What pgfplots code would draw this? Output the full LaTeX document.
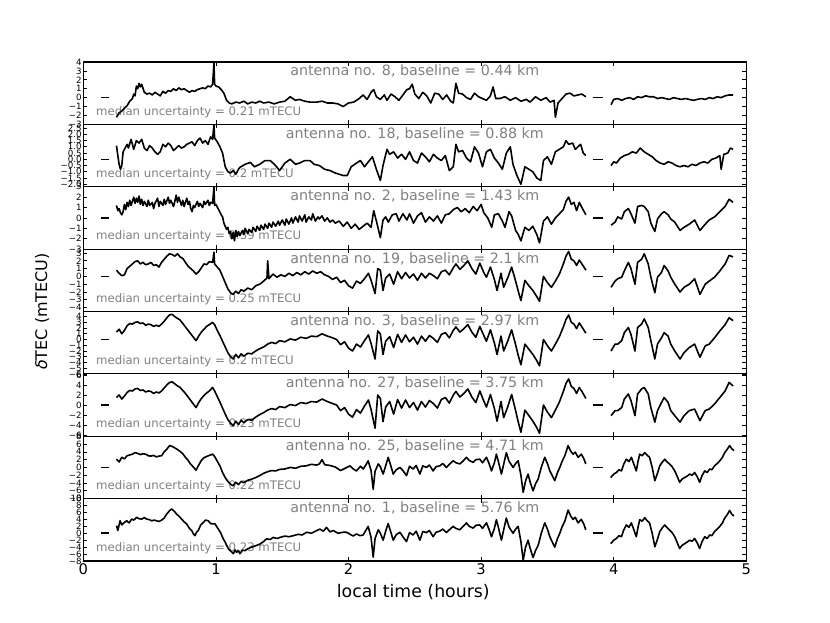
\documentclass[border=0pt]{standalone}
\usepackage{fontspec}
\setmainfont{DejaVu Sans}
\usepackage{pgfplots}
\pgfplotsset{compat=1.18}

\definecolor{lbl}{RGB}{128,128,128}

\pgfplotsset{
  panel/.style={
    scale only axis, width=497.25pt, height=46.78pt,
    anchor=north west,
    xmin=0, xmax=5, xtick={0,1,2,3,4,5}, xticklabels={},
    axis line style={line width=0.8pt},
    major tick length=3pt,
    tick style={black, line width=0.5pt},
    yticklabel style={font=\fontsize{6.5}{7}\selectfont, inner sep=1pt},
    cycle list={{black, mark=none}},
    every axis plot post/.append style={line width=1.2pt, line join=round},
  },
}
\newcommand{\zeromarks}{%
  \addplot[black, mark=none] coordinates {(0.135,0) (0.195,0)};
  \addplot[black, mark=none] coordinates {(3.84,0) (3.92,0)};}
\newcommand{\panellabels}[2]{%
  \node[lbl, font=\fontsize{10.7}{12}\selectfont] at (rel axis cs:0.5,0.85) {#1};
  \node[lbl, anchor=west, font=\fontsize{8.8}{10}\selectfont, inner sep=0pt] at (rel axis cs:0.019,0.2) {#2};}

\begin{document}
\begin{tikzpicture}
\path[use as bounding box] (0,0) rectangle (622.5pt,-467.25pt);

% antenna 8
\begin{axis}[panel, at={(62.5pt,-46.5pt)}, ymin=-3, ymax=4,
  ytick={-3,-2,-1,0,1,2,3,4}, yticklabels={−3,−2,−1,0,1,2,3,4}]
\panellabels{antenna no. 8, baseline = 0.44 km}{median uncertainty = 0.21 mTECU}
\addplot coordinates {(0.25,-2.2)(0.27,-1.7)(0.29,-1.5)(0.31,-1.2)(0.33,-0.9)(0.35,-0.4)(0.37,-0.1)(0.38,0.4)(0.39,0.2)(0.40,1.3)(0.41,1.0)(0.42,1.6)(0.43,1.2)(0.44,1.5)(0.46,0.6)(0.48,0.4)(0.50,0.5)(0.52,0.3)(0.54,0.6)(0.56,0.4)(0.58,0.2)(0.60,0.7)(0.62,0.5)(0.64,0.8)(0.66,0.7)(0.68,1.0)(0.70,0.8)(0.72,1.1)(0.74,0.9)(0.76,1.0)(0.78,0.8)(0.80,0.6)(0.82,0.8)(0.84,0.7)(0.86,0.9)(0.88,1.0)(0.90,1.1)(0.92,1.0)(0.94,1.3)(0.96,1.2)(0.975,1.5)(0.985,3.9)(0.99,1.5)(1.00,1.3)(1.02,1.2)(1.04,0.9)(1.06,0.5)(1.08,-0.3)(1.10,-0.6)(1.12,-0.7)(1.15,-0.5)(1.18,-0.6)(1.21,-0.4)(1.24,-0.7)(1.27,-0.5)(1.30,-0.6)(1.33,-0.4)(1.36,-0.6)(1.40,-0.5)(1.44,-0.7)(1.48,-0.5)(1.52,-0.4)(1.56,0.1)(1.60,-0.3)(1.63,-0.2)(1.67,-0.4)(1.71,-0.5)(1.76,-0.5)(1.80,-0.4)(1.84,-0.6)(1.88,-0.6)(1.92,-0.7)(1.96,-1.0)(2.00,-0.6)(2.04,-0.5)(2.08,-0.1)(2.11,0.3)(2.14,-0.2)(2.17,0.6)(2.19,0.9)(2.21,0.1)(2.24,-0.2)(2.27,0.3)(2.29,-0.3)(2.32,0.4)(2.35,0.1)(2.38,-0.3)(2.41,0.3)(2.44,0.9)(2.46,1.0)(2.48,1.5)(2.50,0.4)(2.53,-0.1)(2.56,0.6)(2.59,0.2)(2.62,-0.6)(2.65,0.5)(2.68,0.4)(2.71,-0.2)(2.74,0.3)(2.77,-0.4)(2.79,-0.6)(2.81,1.6)(2.83,0.5)(2.86,0.4)(2.89,0.0)(2.92,-0.2)(2.95,0.5)(2.98,0.1)(3.01,-0.1)(3.04,-0.3)(3.07,0.2)(3.09,1.2)(3.11,-0.1)(3.14,-0.1)(3.18,0.1)(3.22,-0.3)(3.26,0.0)(3.30,-0.4)(3.34,-0.2)(3.37,-0.5)(3.41,0.1)(3.45,-0.3)(3.49,0.0)(3.52,-0.5)(3.55,-0.3)(3.56,-2.2)(3.58,-0.6)(3.61,-0.1)(3.64,0.4)(3.67,0.5)(3.70,0.2)(3.73,0.3)(3.76,0.4)(3.79,0.1)};
\addplot coordinates {(3.98,-0.8)(4.00,-0.2)(4.03,-0.1)(4.06,-0.3)(4.09,-0.1)(4.12,0.0)(4.15,-0.2)(4.18,0.1)(4.21,0.0)(4.24,0.2)(4.27,0.1)(4.30,0.1)(4.33,-0.1)(4.36,0.0)(4.39,-0.1)(4.42,-0.2)(4.45,0.0)(4.48,-0.1)(4.51,-0.2)(4.54,-0.1)(4.57,-0.2)(4.60,-0.3)(4.63,-0.2)(4.66,-0.1)(4.69,-0.2)(4.72,0.0)(4.75,-0.1)(4.78,0.1)(4.81,0.0)(4.84,0.2)(4.87,0.3)(4.90,0.3)};
\zeromarks
\end{axis}

% antenna 18
\begin{axis}[panel, at={(62.5pt,-93.28pt)}, ymin=-2.2, ymax=2.8,
  ytick={-2,-1.5,-1,-0.5,0,0.5,1,1.5,2,2.5}, yticklabels={−2.0,−1.5,−1.0,−0.5,0.0,0.5,1.0,1.5,2.0,2.5}]
\panellabels{antenna no. 18, baseline = 0.88 km}{median uncertainty = 0.2 mTECU}
\addplot coordinates {(0.25,1.1)(0.26,0.3)(0.27,-0.4)(0.28,-0.8)(0.29,-0.5)(0.30,0.6)(0.32,1.0)(0.33,1.2)(0.34,0.9)(0.36,1.6)(0.38,0.8)(0.40,1.5)(0.42,1.3)(0.44,1.6)(0.46,0.9)(0.48,0.7)(0.50,1.1)(0.52,0.9)(0.54,0.6)(0.56,0.4)(0.58,0.6)(0.60,1.2)(0.62,1.0)(0.64,1.3)(0.66,1.1)(0.68,0.7)(0.70,0.9)(0.72,1.1)(0.74,0.9)(0.76,1.0)(0.78,1.2)(0.80,1.3)(0.82,1.4)(0.84,1.1)(0.86,1.5)(0.88,1.7)(0.90,1.3)(0.92,1.5)(0.94,1.2)(0.96,1.8)(0.975,1.6)(0.985,2.8)(0.99,1.7)(1.01,1.4)(1.03,1.0)(1.05,0.5)(1.07,-0.6)(1.09,-1.0)(1.11,-1.1)(1.13,-0.9)(1.15,-1.2)(1.17,-0.8)(1.18,-0.65)(1.22,-0.4)(1.26,-0.25)(1.29,-0.6)(1.33,-0.4)(1.37,-0.1)(1.41,-0.1)(1.45,-0.5)(1.48,-0.9)(1.52,-0.3)(1.56,0.0)(1.60,-0.4)(1.63,-0.3)(1.67,-0.1)(1.71,-0.1)(1.74,-0.4)(1.78,-0.5)(1.82,-0.8)(1.86,-0.9)(1.90,-1.1)(1.93,-1.2)(1.96,-1.3)(1.99,-1.3)(2.02,-0.6)(2.06,-0.3)(2.09,-0.1)(2.12,-0.6)(2.15,-0.2)(2.18,0.2)(2.21,-0.8)(2.24,-1.7)(2.26,-0.5)(2.29,0.8)(2.31,0.4)(2.34,0.6)(2.37,0.1)(2.40,0.4)(2.43,0.0)(2.46,0.6)(2.49,-0.1)(2.52,-0.3)(2.55,0.5)(2.58,0.2)(2.61,-0.2)(2.64,0.4)(2.67,0.1)(2.70,-0.1)(2.73,0.3)(2.76,-0.9)(2.79,-0.6)(2.81,1.2)(2.83,0.6)(2.86,0.7)(2.89,0.1)(2.92,-0.2)(2.95,1.0)(2.98,0.5)(3.01,-0.6)(3.04,0.6)(3.07,0.8)(3.10,0.1)(3.13,-0.3)(3.16,-0.8)(3.19,0.5)(3.22,1.0)(3.24,-0.4)(3.27,-1.3)(3.30,-2.0)(3.33,-0.6)(3.36,-0.8)(3.39,-1.0)(3.42,-1.5)(3.45,-1.7)(3.47,-0.1)(3.50,0.2)(3.53,-0.4)(3.56,0.6)(3.59,0.8)(3.62,1.0)(3.64,1.5)(3.66,1.2)(3.69,1.3)(3.71,0.8)(3.73,1.0)(3.75,1.2)(3.77,0.5)(3.79,0.3)};
\addplot coordinates {(3.98,-0.5)(4.00,-0.2)(4.02,-0.3)(4.05,0.1)(4.08,0.3)(4.11,0.4)(4.14,0.6)(4.17,0.5)(4.20,0.9)(4.23,0.6)(4.26,0.4)(4.29,0.2)(4.32,-0.1)(4.35,-0.3)(4.38,-0.4)(4.41,-0.2)(4.44,-0.3)(4.47,-0.5)(4.50,-0.6)(4.53,-0.5)(4.56,-0.6)(4.59,-0.4)(4.62,-0.5)(4.65,-0.3)(4.68,-0.2)(4.71,-0.3)(4.74,0.0)(4.77,0.1)(4.80,0.3)(4.81,-0.8)(4.83,0.4)(4.86,0.5)(4.88,0.9)(4.90,0.8)};
\zeromarks
\end{axis}

% antenna 2
\begin{axis}[panel, at={(62.5pt,-140.06pt)}, ymin=-3, ymax=3,
  ytick={-3,-2,-1,0,1,2,3}, yticklabels={−3,−2,−1,0,1,2,3}]
\panellabels{antenna no. 2, baseline = 1.43 km}{median uncertainty = 0.39 mTECU}
\addplot coordinates {(0.25,1.2)(0.26,0.7)(0.27,0.9)(0.28,0.5)(0.29,0.3)(0.30,0.6)(0.31,1.3)(0.32,0.8)(0.33,1.5)(0.34,1.1)(0.35,1.7)(0.36,1.2)(0.37,1.6)(0.38,2.0)(0.39,1.4)(0.40,1.9)(0.41,1.5)(0.42,2.1)(0.43,1.3)(0.44,1.8)(0.45,1.2)(0.46,1.6)(0.48,1.1)(0.49,1.7)(0.50,1.2)(0.52,1.5)(0.53,0.9)(0.54,1.4)(0.56,1.9)(0.57,1.1)(0.58,1.6)(0.60,1.2)(0.61,1.8)(0.62,1.3)(0.64,2.0)(0.65,1.4)(0.66,1.7)(0.68,1.1)(0.69,1.6)(0.70,2.2)(0.71,1.5)(0.72,2.0)(0.74,1.2)(0.75,1.7)(0.76,1.1)(0.78,1.9)(0.79,1.3)(0.80,1.6)(0.81,0.9)(0.82,0.6)(0.83,1.2)(0.84,1.0)(0.86,1.6)(0.87,1.1)(0.88,1.4)(0.90,1.0)(0.91,1.6)(0.92,1.3)(0.94,1.7)(0.95,1.2)(0.96,1.5)(0.975,1.4)(0.985,3.0)(0.99,1.2)(1.00,1.3)(1.02,0.8)(1.04,0.3)(1.05,0.1)(1.06,-0.5)(1.07,-0.8)(1.08,-1.1)(1.09,-0.9)(1.10,-1.5)(1.11,-1.3)(1.12,-2.0)(1.13,-1.4)(1.14,-2.2)(1.15,-1.2)(1.16,-1.8)(1.17,-1.3)(1.18,-1.7)(1.20,-1.2)(1.21,-1.6)(1.22,-1.0)(1.24,-1.5)(1.25,-1.1)(1.27,-1.4)(1.28,-0.9)(1.30,-1.3)(1.31,-0.8)(1.33,-1.2)(1.34,-0.7)(1.36,-1.1)(1.37,-0.6)(1.39,-1.0)(1.40,-0.5)(1.42,-0.9)(1.43,-0.4)(1.45,-0.8)(1.47,-0.3)(1.48,-0.7)(1.50,-0.2)(1.52,-0.7)(1.53,-0.1)(1.55,-0.6)(1.57,0.0)(1.58,-0.5)(1.60,0.1)(1.62,-0.4)(1.63,0.2)(1.65,-0.3)(1.67,0.3)(1.68,-0.4)(1.70,0.1)(1.72,-0.2)(1.73,0.4)(1.75,-0.3)(1.77,0.1)(1.78,-0.1)(1.80,0.2)(1.82,-0.3)(1.84,0.0)(1.86,-0.4)(1.88,-0.2)(1.90,-0.5)(1.93,-0.3)(1.96,-0.8)(1.99,-0.4)(2.02,-1.0)(2.05,-0.6)(2.08,-1.1)(2.11,-0.8)(2.14,-0.5)(2.17,-0.9)(2.19,0.7)(2.21,-0.3)(2.24,-1.9)(2.26,-0.2)(2.28,0.1)(2.30,-0.4)(2.33,0.3)(2.36,0.4)(2.38,-0.3)(2.41,0.4)(2.44,-0.2)(2.46,0.4)(2.49,-0.5)(2.52,0.2)(2.55,0.5)(2.58,-0.4)(2.61,0.1)(2.64,-0.3)(2.67,0.2)(2.70,-0.5)(2.73,0.3)(2.76,0.4)(2.79,0.8)(2.82,1.0)(2.85,0.6)(2.88,0.9)(2.91,0.5)(2.94,1.1)(2.97,0.7)(3.00,1.3)(3.02,0.5)(3.05,0.0)(3.08,-0.9)(3.10,0.3)(3.13,0.4)(3.16,-0.3)(3.18,-0.9)(3.21,0.6)(3.23,0.2)(3.26,-1.2)(3.28,-1.6)(3.30,-2.2)(3.33,-0.9)(3.36,-1.2)(3.39,-0.8)(3.42,-1.6)(3.44,-2.4)(3.47,-0.3)(3.50,0.1)(3.53,-0.6)(3.56,0.0)(3.59,0.4)(3.62,0.8)(3.64,1.6)(3.66,2.0)(3.68,1.3)(3.70,1.5)(3.72,0.7)(3.74,1.5)(3.76,1.0)(3.79,0.3)};
\addplot coordinates {(3.98,-0.7)(4.01,-0.4)(4.03,0.1)(4.06,-0.1)(4.08,0.6)(4.11,0.9)(4.13,0.4)(4.16,-0.5)(4.18,1.1)(4.21,1.2)(4.23,1.1)(4.26,0.6)(4.28,-0.5)(4.31,-1.3)(4.33,-0.1)(4.36,0.4)(4.38,0.6)(4.41,0.3)(4.43,-0.1)(4.46,-0.4)(4.50,-1.2)(4.53,-0.9)(4.57,-0.6)(4.61,-0.2)(4.65,-1.2)(4.69,-0.6)(4.72,-0.2)(4.76,0.1)(4.80,0.6)(4.84,1.1)(4.87,1.8)(4.90,1.5)};
\zeromarks
\end{axis}

% antenna 19
\begin{axis}[panel, at={(62.5pt,-186.84pt)}, ymin=-4.5, ymax=3.5,
  ytick={-4,-3,-2,-1,0,1,2,3}, yticklabels={−4,−3,−2,−1,0,1,2,3}]
\panellabels{antenna no. 19, baseline = 2.1 km}{median uncertainty = 0.25 mTECU}
\addplot coordinates {(0.25,0.8)(0.27,0.4)(0.29,0.1)(0.31,0.2)(0.33,1.0)(0.35,1.3)(0.37,1.6)(0.39,1.9)(0.41,2.0)(0.43,1.6)(0.45,1.8)(0.47,1.5)(0.49,1.6)(0.51,1.8)(0.53,1.4)(0.55,1.5)(0.57,1.2)(0.59,1.8)(0.61,2.2)(0.63,2.6)(0.65,2.9)(0.67,2.8)(0.69,2.6)(0.71,2.9)(0.73,2.5)(0.75,2.3)(0.77,1.8)(0.79,1.3)(0.81,1.0)(0.83,0.7)(0.85,0.3)(0.87,0.6)(0.89,1.1)(0.91,1.6)(0.93,1.5)(0.95,1.9)(0.975,1.8)(0.985,3.1)(0.99,1.6)(1.01,1.2)(1.03,0.8)(1.05,0.0)(1.07,-0.8)(1.09,-1.6)(1.11,-2.1)(1.13,-2.3)(1.15,-1.9)(1.17,-2.2)(1.19,-1.7)(1.21,-1.9)(1.24,-1.5)(1.27,-1.7)(1.30,-1.2)(1.33,-1.0)(1.36,-0.6)(1.385,-0.2)(1.39,2.0)(1.40,-0.3)(1.43,0.3)(1.46,-0.1)(1.49,0.2)(1.52,0.0)(1.55,0.4)(1.58,0.1)(1.61,0.5)(1.64,0.2)(1.67,0.6)(1.70,0.3)(1.73,0.7)(1.76,0.4)(1.79,0.6)(1.82,0.2)(1.85,0.0)(1.88,-0.4)(1.91,-0.1)(1.94,-0.8)(1.97,-0.5)(2.00,-1.2)(2.03,-1.5)(2.06,-0.6)(2.09,-0.9)(2.12,-0.3)(2.15,0.4)(2.17,-0.5)(2.20,-2.2)(2.22,1.0)(2.24,0.8)(2.26,-1.8)(2.28,-0.2)(2.31,0.3)(2.34,-1.0)(2.37,0.6)(2.40,-0.3)(2.43,0.5)(2.46,-0.2)(2.49,0.3)(2.52,-0.5)(2.55,0.4)(2.58,-0.2)(2.61,0.4)(2.64,0.1)(2.67,-0.3)(2.70,0.6)(2.73,0.8)(2.76,0.2)(2.79,1.1)(2.81,1.6)(2.84,0.9)(2.87,1.4)(2.90,2.0)(2.93,1.0)(2.96,0.3)(2.99,1.7)(3.02,0.5)(3.04,-0.1)(3.07,1.2)(3.10,-0.4)(3.12,-1.8)(3.15,0.4)(3.17,-1.4)(3.20,-0.2)(3.23,1.2)(3.26,-0.6)(3.28,-1.9)(3.30,-3.1)(3.33,-0.5)(3.36,-1.2)(3.39,-1.8)(3.42,-2.6)(3.44,-3.2)(3.47,0.0)(3.50,-0.8)(3.53,-1.4)(3.56,-0.6)(3.59,0.3)(3.62,1.6)(3.64,2.6)(3.66,3.2)(3.68,2.2)(3.70,2.0)(3.72,1.4)(3.74,2.1)(3.76,1.6)(3.79,0.8)};
\addplot coordinates {(3.98,-1.4)(4.01,-0.6)(4.03,-0.3)(4.06,-0.1)(4.08,0.7)(4.11,1.8)(4.13,1.0)(4.16,-1.0)(4.18,1.8)(4.21,2.2)(4.23,2.9)(4.26,1.6)(4.28,-0.1)(4.31,-2.1)(4.33,-0.1)(4.36,0.5)(4.38,1.4)(4.41,0.7)(4.43,-0.1)(4.46,-1.0)(4.50,-2.0)(4.53,-1.4)(4.57,-1.0)(4.61,-0.3)(4.65,-2.3)(4.69,-1.0)(4.72,-0.6)(4.76,-0.1)(4.80,0.7)(4.84,1.6)(4.87,2.7)(4.90,2.5)};
\zeromarks
\end{axis}

% antenna 3
\begin{axis}[panel, at={(62.5pt,-233.62pt)}, ymin=-6, ymax=4.9,
  ytick={-6,-5,-4,-3,-2,-1,0,1,2,3,4}, yticklabels={−6,−5,−4,−3,−2,−1,0,1,2,3,4}]
\panellabels{antenna no. 3, baseline = 2.97 km}{median uncertainty = 0.2 mTECU}
\addplot coordinates {(0.25,1.3)(0.27,1.8)(0.29,1.0)(0.31,1.6)(0.33,2.4)(0.35,2.8)(0.37,2.7)(0.39,3.0)(0.41,3.1)(0.43,2.8)(0.45,2.9)(0.47,2.5)(0.49,2.7)(0.51,2.6)(0.53,2.3)(0.55,2.5)(0.57,2.3)(0.59,2.7)(0.61,3.2)(0.63,3.8)(0.65,4.3)(0.67,4.4)(0.69,4.0)(0.71,3.7)(0.73,3.4)(0.75,2.8)(0.77,2.2)(0.79,1.6)(0.81,1.0)(0.83,0.4)(0.85,-0.2)(0.87,0.6)(0.89,1.3)(0.91,1.8)(0.93,2.3)(0.95,2.6)(0.975,3.0)(0.99,2.6)(1.01,1.6)(1.03,0.7)(1.05,-0.3)(1.07,-1.3)(1.09,-2.3)(1.11,-3.0)(1.13,-3.4)(1.15,-2.6)(1.17,-3.2)(1.19,-2.5)(1.21,-2.9)(1.24,-2.4)(1.27,-2.5)(1.30,-2.0)(1.33,-1.6)(1.36,-1.3)(1.39,-0.8)(1.42,-0.5)(1.45,-0.7)(1.48,-0.2)(1.52,-0.4)(1.56,0.1)(1.60,-0.1)(1.64,0.4)(1.68,0.2)(1.72,0.6)(1.76,0.5)(1.80,1.0)(1.84,0.6)(1.88,0.3)(1.91,0.0)(1.94,-0.9)(1.97,-0.4)(2.00,-1.5)(2.03,-2.0)(2.06,-0.8)(2.09,-1.3)(2.12,-0.2)(2.15,0.8)(2.17,-0.7)(2.20,-3.4)(2.22,1.5)(2.24,1.0)(2.26,-2.6)(2.28,-0.3)(2.31,0.5)(2.34,-1.4)(2.37,0.9)(2.40,-0.5)(2.43,0.8)(2.46,-0.4)(2.49,0.4)(2.52,-0.8)(2.55,0.6)(2.58,-0.3)(2.61,0.7)(2.64,0.2)(2.67,-0.5)(2.70,0.9)(2.73,1.2)(2.76,0.3)(2.79,1.6)(2.81,2.2)(2.84,1.3)(2.87,1.9)(2.90,2.6)(2.93,1.3)(2.96,0.4)(2.99,2.3)(3.02,0.7)(3.04,-0.3)(3.07,1.7)(3.10,-0.6)(3.12,-2.6)(3.15,0.6)(3.17,-2.0)(3.20,-0.3)(3.23,1.7)(3.26,-0.9)(3.28,-2.8)(3.30,-4.4)(3.33,-0.8)(3.36,-1.7)(3.39,-2.6)(3.42,-3.7)(3.44,-4.6)(3.47,0.0)(3.50,-1.1)(3.53,-2.0)(3.56,-0.8)(3.59,0.5)(3.62,2.2)(3.64,3.5)(3.66,4.3)(3.68,3.0)(3.70,2.7)(3.72,1.9)(3.74,2.9)(3.76,2.2)(3.79,1.1)};
\addplot coordinates {(3.98,-2.0)(4.01,-0.8)(4.03,-0.8)(4.06,-0.2)(4.08,1.2)(4.11,2.1)(4.13,0.9)(4.16,-2.0)(4.18,2.1)(4.21,2.7)(4.23,3.6)(4.26,2.1)(4.28,-0.2)(4.31,-3.4)(4.33,-0.8)(4.36,0.3)(4.38,1.2)(4.41,0.6)(4.43,-0.8)(4.46,-2.0)(4.50,-3.4)(4.53,-2.3)(4.57,-1.4)(4.61,-0.8)(4.65,-3.1)(4.69,-1.1)(4.72,-0.8)(4.76,0.3)(4.80,1.5)(4.84,2.6)(4.87,3.8)(4.90,3.3)};
\zeromarks
\end{axis}

% antenna 27
\begin{axis}[panel, at={(62.5pt,-280.4pt)}, ymin=-6.2, ymax=6.2,
  ytick={-6,-4,-2,0,2,4,6}, yticklabels={−6,−4,−2,0,2,4,6}]
\panellabels{antenna no. 27, baseline = 3.75 km}{median uncertainty = 0.23 mTECU}
\addplot coordinates {(0.25,1.5)(0.27,2.0)(0.29,1.2)(0.31,1.8)(0.33,2.5)(0.35,2.9)(0.37,2.8)(0.39,3.2)(0.41,3.3)(0.43,2.9)(0.45,3.0)(0.47,2.6)(0.49,2.8)(0.51,2.7)(0.53,2.3)(0.55,2.6)(0.57,2.4)(0.59,2.8)(0.61,3.4)(0.63,4.0)(0.65,4.5)(0.67,4.6)(0.69,4.2)(0.71,3.8)(0.73,3.5)(0.75,2.9)(0.77,2.3)(0.79,1.6)(0.81,0.9)(0.83,0.2)(0.85,-0.5)(0.87,0.5)(0.89,1.3)(0.91,1.9)(0.93,2.4)(0.95,2.8)(0.975,3.5)(0.99,2.8)(1.01,1.7)(1.03,0.6)(1.05,-0.6)(1.07,-1.8)(1.09,-2.9)(1.11,-3.6)(1.13,-4.1)(1.15,-3.2)(1.17,-3.9)(1.19,-3.0)(1.21,-3.5)(1.24,-2.9)(1.27,-3.0)(1.30,-2.4)(1.33,-1.9)(1.36,-1.5)(1.39,-1.0)(1.42,-0.7)(1.45,-0.9)(1.48,-0.3)(1.52,-0.5)(1.56,0.1)(1.60,-0.1)(1.64,0.5)(1.68,0.3)(1.72,0.7)(1.76,0.6)(1.80,1.2)(1.84,0.7)(1.88,0.3)(1.91,0.0)(1.94,-1.1)(1.97,-0.5)(2.00,-1.8)(2.03,-2.4)(2.06,-0.9)(2.09,-1.6)(2.12,-0.2)(2.15,1.0)(2.17,-0.9)(2.20,-4.6)(2.22,2.0)(2.24,1.3)(2.26,-3.3)(2.28,-0.4)(2.31,0.7)(2.34,-1.8)(2.37,1.1)(2.40,-0.6)(2.43,1.0)(2.46,-0.5)(2.49,0.5)(2.52,-1.0)(2.55,0.7)(2.58,-0.4)(2.61,0.9)(2.64,0.3)(2.67,-0.6)(2.70,1.1)(2.73,1.5)(2.76,0.4)(2.79,2.0)(2.81,2.7)(2.84,1.6)(2.87,2.3)(2.90,3.2)(2.93,1.6)(2.96,0.5)(2.99,2.8)(3.02,0.8)(3.04,-0.4)(3.07,2.1)(3.10,-0.7)(3.12,-3.2)(3.15,0.7)(3.17,-2.5)(3.20,-0.4)(3.23,2.1)(3.26,-1.1)(3.28,-3.4)(3.30,-5.4)(3.33,-1.0)(3.36,-2.1)(3.39,-3.2)(3.42,-4.5)(3.44,-5.6)(3.47,0.0)(3.50,-1.4)(3.53,-2.5)(3.56,-1.0)(3.59,0.6)(3.62,2.7)(3.64,4.3)(3.66,5.2)(3.68,3.7)(3.70,3.3)(3.72,2.3)(3.74,3.5)(3.76,2.7)(3.79,1.3)};
\addplot coordinates {(3.98,-2.1)(4.01,-1.1)(4.03,-1.1)(4.06,-0.5)(4.08,1.2)(4.11,2.2)(4.13,0.9)(4.16,-2.1)(4.18,2.2)(4.21,3.2)(4.23,3.5)(4.26,2.2)(4.28,-0.5)(4.31,-3.4)(4.33,-1.1)(4.36,0.5)(4.38,1.5)(4.41,0.5)(4.43,-1.1)(4.46,-2.1)(4.50,-3.4)(4.53,-2.1)(4.57,-1.1)(4.61,-0.8)(4.65,-3.1)(4.69,-1.1)(4.72,-0.8)(4.76,0.2)(4.80,1.5)(4.84,2.8)(4.87,4.5)(4.90,3.8)};
\zeromarks
\end{axis}

% antenna 25
\begin{axis}[panel, at={(62.5pt,-327.18pt)}, ymin=-8, ymax=8,
  ytick={-8,-6,-4,-2,0,2,4,6,8}, yticklabels={−8,−6,−4,−2,0,2,4,6,8}]
\panellabels{antenna no. 25, baseline = 4.71 km}{median uncertainty = 0.22 mTECU}
\addplot coordinates {(0.25,2.1)(0.27,1.4)(0.29,2.6)(0.31,2.2)(0.33,3.0)(0.35,3.2)(0.37,3.4)(0.39,3.8)(0.41,3.6)(0.43,3.3)(0.45,3.5)(0.47,3.4)(0.49,3.0)(0.51,2.9)(0.53,3.1)(0.55,2.7)(0.57,2.9)(0.59,3.0)(0.61,4.0)(0.63,4.7)(0.65,5.6)(0.67,5.4)(0.69,5.0)(0.71,4.6)(0.73,4.1)(0.75,3.5)(0.77,2.6)(0.79,1.8)(0.81,0.8)(0.83,0.1)(0.85,-0.7)(0.87,0.6)(0.89,1.8)(0.91,2.5)(0.93,2.8)(0.95,3.1)(0.975,3.4)(0.99,2.8)(1.01,1.6)(1.03,0.4)(1.05,-1.3)(1.07,-2.6)(1.09,-3.6)(1.11,-4.3)(1.13,-4.7)(1.15,-3.8)(1.17,-4.4)(1.19,-3.6)(1.21,-3.9)(1.24,-3.3)(1.27,-3.0)(1.30,-2.6)(1.33,-2.1)(1.36,-1.5)(1.39,-1.1)(1.42,-0.8)(1.45,-0.9)(1.48,-0.5)(1.52,-0.4)(1.56,0.0)(1.60,-0.2)(1.64,0.3)(1.68,0.4)(1.72,0.8)(1.76,0.6)(1.78,0.9)(1.80,2.0)(1.82,0.7)(1.86,0.5)(1.90,0.1)(1.94,-0.8)(1.97,-0.3)(2.01,0.4)(2.04,-0.5)(2.06,-0.9)(2.09,0.3)(2.11,-0.4)(2.13,0.6)(2.148,1.7)(2.17,-0.8)(2.186,-5.6)(2.20,-1.0)(2.224,0.9)(2.24,0.2)(2.261,-1.7)(2.28,0.4)(2.299,2.6)(2.32,0.3)(2.337,-1.7)(2.36,-0.6)(2.387,0.0)(2.41,-0.8)(2.437,-2.1)(2.46,0.3)(2.487,-0.4)(2.51,0.5)(2.538,-1.7)(2.56,0.4)(2.588,0.0)(2.61,0.6)(2.638,-0.9)(2.66,0.2)(2.688,0.4)(2.71,1.0)(2.739,0.0)(2.76,0.8)(2.789,1.7)(2.81,1.2)(2.839,0.9)(2.86,1.5)(2.889,2.6)(2.91,1.8)(2.94,1.3)(2.96,2.0)(2.99,2.1)(3.01,1.2)(3.04,2.6)(3.06,1.0)(3.078,-0.9)(3.10,1.2)(3.115,3.4)(3.13,1.5)(3.153,-1.7)(3.17,0.8)(3.19,3.8)(3.21,1.6)(3.241,0.0)(3.26,1.0)(3.279,1.7)(3.30,-2.0)(3.317,-6.4)(3.335,-3.5)(3.354,-1.7)(3.37,-3.8)(3.392,-6.0)(3.41,-4.2)(3.43,-3.0)(3.455,0.2)(3.48,2.6)(3.50,1.0)(3.518,-0.9)(3.535,-2.0)(3.555,-3.4)(3.575,-1.4)(3.593,0.0)(3.61,1.5)(3.631,3.0)(3.656,5.6)(3.675,4.2)(3.693,3.4)(3.71,3.9)(3.731,2.6)(3.756,3.4)(3.775,2.2)(3.789,0.9)};
\addplot coordinates {(3.977,-2.6)(4.00,-1.7)(4.02,-1.3)(4.04,-0.6)(4.058,-0.9)(4.075,0.8)(4.095,2.1)(4.115,1.5)(4.133,2.6)(4.15,1.0)(4.17,-0.9)(4.183,1.5)(4.196,3.4)(4.215,3.0)(4.234,3.8)(4.25,3.2)(4.27,2.6)(4.29,0.0)(4.31,-3.4)(4.33,-1.5)(4.347,0.4)(4.365,1.3)(4.385,2.1)(4.40,1.5)(4.42,0.9)(4.44,0.2)(4.46,-0.9)(4.48,-2.4)(4.497,-3.8)(4.515,-3.0)(4.535,-2.6)(4.555,-2.2)(4.573,-1.7)(4.59,-2.0)(4.61,-1.3)(4.63,-2.4)(4.648,-3.8)(4.665,-2.2)(4.686,-0.9)(4.705,-1.3)(4.724,-0.4)(4.74,-0.6)(4.76,0.4)(4.78,1.0)(4.80,1.7)(4.82,2.6)(4.837,3.8)(4.855,4.6)(4.874,5.6)(4.89,4.8)(4.907,4.3)};
\zeromarks
\end{axis}

% antenna 1
\begin{axis}[panel, at={(62.5pt,-373.96pt)}, ymin=-8, ymax=10,
  ytick={-8,-6,-4,-2,0,2,4,6,8,10}, yticklabels={−8,−6,−4,−2,0,2,4,6,8,10},
  xticklabels={0,1,2,3,4,5},
  xticklabel style={font=\fontsize{11}{13}\selectfont, inner sep=2pt}]
\panellabels{antenna no. 1, baseline = 5.76 km}{median uncertainty = 0.23 mTECU}
\addplot coordinates {(0.25,2.2)(0.26,0.8)(0.277,3.6)(0.29,2.4)(0.302,2.9)(0.327,3.6)(0.345,3.0)(0.365,4.1)(0.38,3.8)(0.402,4.6)(0.42,4.2)(0.44,4.1)(0.46,4.5)(0.478,4.1)(0.50,3.9)(0.515,3.6)(0.535,3.8)(0.553,3.6)(0.57,3.4)(0.591,3.8)(0.61,4.4)(0.628,5.5)(0.65,6.5)(0.666,7.0)(0.685,6.4)(0.704,5.5)(0.72,5.0)(0.741,4.1)(0.76,3.3)(0.779,2.7)(0.80,1.4)(0.817,0.8)(0.83,-0.2)(0.842,-0.7)(0.855,0.4)(0.867,0.8)(0.885,2.4)(0.905,3.1)(0.92,3.8)(0.942,3.6)(0.96,2.8)(0.975,2.7)(0.993,2.7)(1.018,1.2)(1.035,0.2)(1.055,-1.6)(1.07,-2.6)(1.081,-3.5)(1.095,-4.5)(1.106,-5.0)(1.12,-5.4)(1.131,-5.9)(1.145,-4.8)(1.156,-5.5)(1.17,-5.0)(1.181,-5.9)(1.20,-4.9)(1.219,-5.0)(1.24,-4.5)(1.269,-4.0)(1.30,-3.6)(1.332,-3.1)(1.36,-2.4)(1.382,-1.6)(1.41,-1.8)(1.432,-1.2)(1.46,-1.5)(1.483,-1.2)(1.52,-0.8)(1.55,-1.0)(1.583,-0.7)(1.62,-0.3)(1.65,-0.5)(1.684,0.3)(1.72,0.0)(1.75,0.6)(1.784,1.2)(1.81,0.6)(1.834,1.7)(1.86,0.4)(1.885,0.8)(1.92,0.0)(1.96,0.3)(1.985,0.3)(2.035,-0.8)(2.06,-0.2)(2.086,-0.7)(2.11,-0.5)(2.13,0.8)(2.148,2.0)(2.17,-1.2)(2.186,-6.9)(2.20,-1.5)(2.224,1.0)(2.24,0.0)(2.261,-2.0)(2.28,0.6)(2.299,2.8)(2.32,0.2)(2.337,-2.0)(2.36,-0.4)(2.387,0.3)(2.41,-1.0)(2.437,-2.4)(2.46,0.2)(2.487,-0.5)(2.51,0.6)(2.538,-2.0)(2.56,0.5)(2.588,0.2)(2.61,0.8)(2.638,-1.0)(2.66,0.3)(2.688,0.6)(2.71,1.2)(2.739,0.2)(2.76,1.0)(2.789,2.0)(2.81,1.4)(2.839,1.0)(2.86,1.8)(2.889,3.0)(2.91,2.0)(2.94,1.5)(2.96,2.3)(2.99,2.4)(3.01,1.4)(3.04,3.0)(3.06,1.1)(3.078,-1.0)(3.10,1.4)(3.115,3.9)(3.13,1.7)(3.153,-2.0)(3.17,1.0)(3.19,4.4)(3.21,1.8)(3.241,0.0)(3.26,1.2)(3.279,2.0)(3.30,-2.4)(3.317,-7.8)(3.335,-4.0)(3.354,-2.0)(3.37,-4.4)(3.392,-7.0)(3.41,-5.0)(3.43,-3.5)(3.455,0.2)(3.48,3.0)(3.50,1.2)(3.518,-1.0)(3.535,-2.4)(3.555,-4.0)(3.575,-1.6)(3.593,0.0)(3.61,1.8)(3.631,3.5)(3.656,6.7)(3.675,5.0)(3.693,4.0)(3.71,4.6)(3.731,3.0)(3.756,4.0)(3.775,2.6)(3.789,1.0)};
\addplot coordinates {(3.977,-3.0)(4.00,-2.0)(4.02,-1.5)(4.04,-0.7)(4.058,-1.0)(4.075,0.9)(4.095,2.4)(4.115,1.7)(4.133,3.0)(4.15,1.2)(4.17,-1.0)(4.183,1.7)(4.196,3.9)(4.215,3.5)(4.234,4.5)(4.25,3.7)(4.27,3.0)(4.29,0.0)(4.31,-3.9)(4.33,-1.7)(4.347,0.5)(4.365,1.5)(4.385,2.4)(4.40,1.7)(4.42,1.0)(4.44,0.2)(4.46,-1.0)(4.48,-2.8)(4.497,-4.4)(4.515,-3.5)(4.535,-3.0)(4.555,-2.5)(4.573,-2.0)(4.59,-2.3)(4.61,-1.5)(4.63,-2.8)(4.648,-4.4)(4.665,-2.5)(4.686,-1.0)(4.705,-1.5)(4.724,-0.5)(4.74,-0.7)(4.76,0.5)(4.78,1.2)(4.80,2.0)(4.82,3.0)(4.837,4.4)(4.855,5.3)(4.874,6.6)(4.89,5.5)(4.907,5.0)};
\zeromarks
\end{axis}

\node[rotate=90, font=\fontsize{12}{14}\selectfont] at (31.5pt,-233.6pt) {{\itshape δ}TEC (mTECU)};
\node[font=\fontsize{13}{15}\selectfont] at (310pt,-444pt) {local time (hours)};
\end{tikzpicture}
\end{document}
